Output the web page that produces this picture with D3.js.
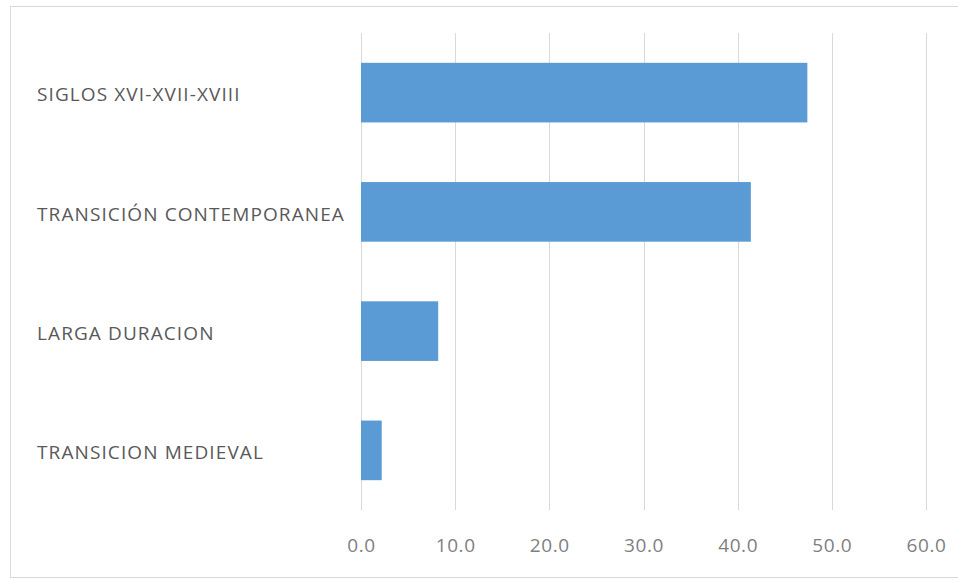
<!DOCTYPE html>
<html>
<head>
<meta charset="utf-8">
<script src="https://cdn.jsdelivr.net/npm/d3@7"></script>
<style>
  body { margin: 0; background: #fff; }
  text { font-family: "Open Sans", "Noto Sans", sans-serif; }
</style>
</head>
<body>
<div id="chart"></div>
<script>
// data
const categories = ["SIGLOS XVI-XVII-XVIII", "TRANSICIÓN CONTEMPORANEA", "LARGA DURACION", "TRANSICION MEDIEVAL"];
const values = [47.4, 41.4, 8.2, 2.2];
const xTicks = [0, 10, 20, 30, 40, 50, 60];

const W = 958, H = 581;
const plot = {left: 361, right: 926, top: 33, bottom: 510};

const svg = d3.select("#chart").append("svg")
  .attr("width", W).attr("height", H);

// chart border
svg.append("rect")
  .attr("x", 10.5).attr("y", 6.5)
  .attr("width", W).attr("height", 571)
  .attr("fill", "#fff")
  .attr("stroke", "#d9d9d9");

const x = d3.scaleLinear().domain([0, 60]).range([plot.left, plot.right]);
const y = d3.scaleBand().domain(categories).range([plot.top, plot.bottom])
  .paddingInner(0.5).paddingOuter(0.25);

// gridlines
svg.append("g").selectAll("line")
  .data(xTicks).enter().append("line")
  .attr("x1", d => Math.round(x(d)) + 0.5).attr("x2", d => Math.round(x(d)) + 0.5)
  .attr("y1", plot.top).attr("y2", plot.bottom)
  .attr("stroke", "#d9d9d9").attr("stroke-width", 1);

// bars
svg.append("g").selectAll("rect")
  .data(categories).enter().append("rect")
  .attr("x", x(0))
  .attr("y", d => y(d))
  .attr("width", (d, i) => x(values[i]) - x(0))
  .attr("height", y.bandwidth())
  .attr("fill", "#5b9bd5");

// x axis
const xAxis = svg.append("g")
  .attr("transform", `translate(0,${plot.bottom})`)
  .call(d3.axisBottom(x).tickValues(xTicks).tickFormat(d3.format(".1f")).tickSize(0).tickPadding(29));
xAxis.select(".domain").remove();
xAxis.selectAll("text")
  .attr("fill", "#7f7f7f")
  .style("font-size", "19px")
  .style("letter-spacing", "0.6px");

// category labels
svg.append("g").selectAll("text")
  .data(categories).enter().append("text")
  .attr("x", 37)
  .attr("y", d => y(d) + y.bandwidth() / 2 + 2)
  .attr("dy", "0.35em")
  .attr("fill", "#595959")
  .style("font-size", "19px")
  .style("letter-spacing", "1.1px")
  .text(d => d);
</script>
</body>
</html>
